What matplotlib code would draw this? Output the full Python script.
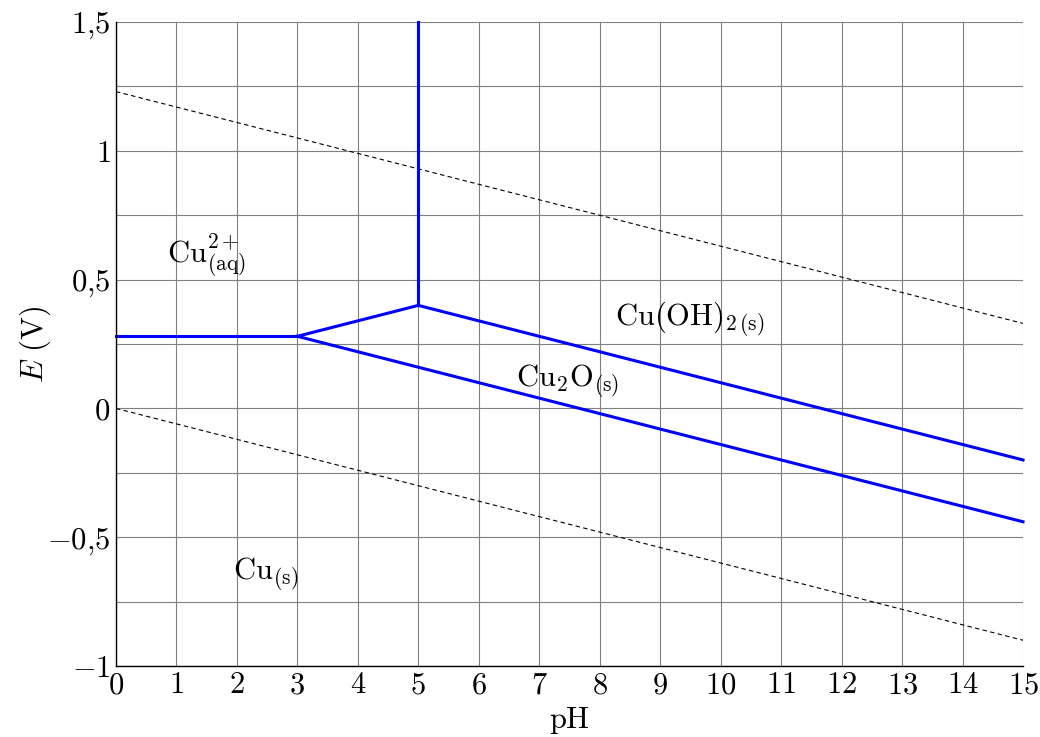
import numpy as np
import matplotlib
matplotlib.use("Agg")
import matplotlib.pyplot as plt

plt.rcParams["mathtext.fontset"] = "cm"
plt.rcParams["font.family"] = "serif"
plt.rcParams["font.serif"] = ["cmr10", "DejaVu Serif"]
plt.rcParams["axes.unicode_minus"] = False

# frontier lines (pH, E)
cu2_cu_ph = [0, 3]
cu2_cu_e = [0.28, 0.28]
cu2_cu2o_ph = [3, 5]
cu2_cu2o_e = [0.28, 0.40]
cu2_cuoh_ph = [5, 5]
cu2_cuoh_e = [0.40, 1.5]
cuoh_cu2o_ph = [5, 15]
cuoh_cu2o_e = [0.40, -0.20]
cu2o_cu_ph = [3, 15]
cu2o_cu_e = [0.28, -0.44]

# water lines
o2_ph = [0, 15]
o2_e = [1.23, 0.33]
h2_ph = [0, 15]
h2_e = [0.0, -0.90]

xticks = list(range(0, 16))
yticks = [-1, -0.5, 0, 0.5, 1, 1.5]
ytick_labels = [r"$-1$", r"$-0{,}5$", r"$0$", r"$0{,}5$", r"$1$", r"$1{,}5$"]

labels = [
    (1.49, 0.595, r"$\mathrm{Cu}^{2+}_{\mathrm{(aq)}}$"),
    (9.49, 0.35, r"$\mathrm{Cu(OH)}_{2\,\mathrm{(s)}}$"),
    (7.47, 0.11, r"$\mathrm{Cu_2O}_{\mathrm{(s)}}$"),
    (2.48, -0.64, r"$\mathrm{Cu}_{\mathrm{(s)}}$"),
]

fs = 22

fig = plt.figure(figsize=(10.4, 7.37), dpi=100)
ax = fig.add_axes([0.1115, 0.0963, 0.8722, 0.8738])

ax.set_xlim(0, 15)
ax.set_ylim(-1, 1.5)
ax.set_xticks(xticks)
ax.set_yticks(np.arange(-1, 1.51, 0.25), minor=True)
ax.set_yticks(yticks)
ax.set_yticklabels(ytick_labels)
ax.set_xticklabels([f"${t}$" for t in xticks])
ax.grid(True, which="both", color="#808080", linewidth=0.8)
ax.tick_params(which="both", length=0, labelsize=fs, pad=4)
ax.set_axisbelow(True)

for s in ["top", "right"]:
    ax.spines[s].set_visible(False)
for s in ["left", "bottom"]:
    ax.spines[s].set_linewidth(1.0)

ax.plot(o2_ph, o2_e, color="black", linestyle=(0, (4, 3)), linewidth=0.8)
ax.plot(h2_ph, h2_e, color="black", linestyle=(0, (4, 3)), linewidth=0.8)

blue = "#0000ff"
for xs, ys in [(cu2_cu_ph, cu2_cu_e), (cu2_cu2o_ph, cu2_cu2o_e),
               (cu2_cuoh_ph, cu2_cuoh_e), (cuoh_cu2o_ph, cuoh_cu2o_e),
               (cu2o_cu_ph, cu2o_cu_e)]:
    ax.plot(xs, ys, color=blue, linewidth=2.2, clip_on=False)

for x, y, t in labels:
    ax.text(x, y, t, fontsize=fs, ha="center", va="center")

ax.set_xlabel(r"$\mathrm{pH}$", fontsize=fs, labelpad=4)
ax.set_ylabel(r"$E\ \mathrm{(V)}$", fontsize=fs, labelpad=-4)

fig.savefig("out.png", dpi=100)
